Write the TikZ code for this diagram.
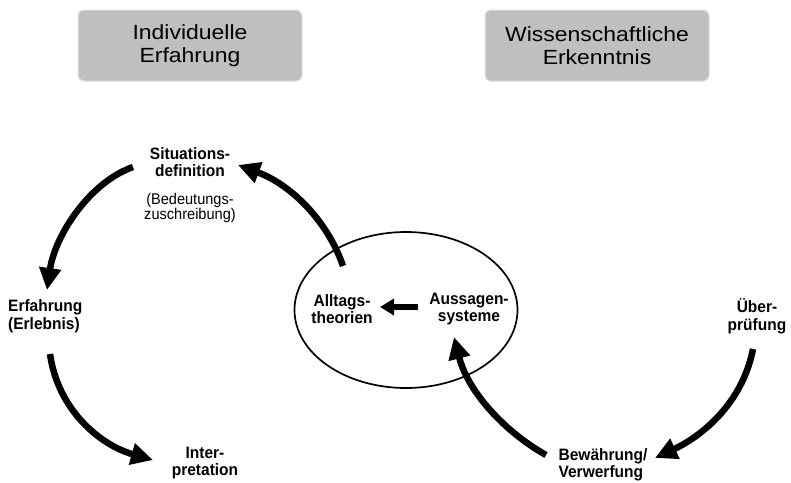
\documentclass[tikz,border=0pt]{standalone}
\usepackage{fontspec}
\setmainfont{Liberation Sans}
\newfontfamily\hdrfont[FakeStretch=1.12]{Liberation Sans}
\newfontfamily\lblfont[FakeStretch=0.94]{Liberation Sans}
\usetikzlibrary{arrows.meta,shapes.geometric}
\begin{document}
\begin{tikzpicture}[x=1pt,y=-1pt,
  headbox/.style={fill=black!25,draw=black!12,line width=1pt,rounded corners=6pt,minimum width=224pt,minimum height=71pt,align=center,font=\hdrfont\fontsize{20.5}{23}\selectfont},
  lbl/.style={font=\lblfont\bfseries\fontsize{16.5}{17.5}\selectfont,align=center,inner sep=0pt},
  sub/.style={font=\lblfont\fontsize{15.5}{14}\selectfont,align=center,inner sep=0pt},
  bigarrow/.style={line width=6.5pt,-{Triangle[width=21pt,length=22pt]}}]
\useasboundingbox (0,0) rectangle (791,482);
\node[headbox] (ind) at (190,45.5) {Individuelle\\Erfahrung};
\node[headbox] (wis) at (597,45.5) {Wissenschaftliche\\Erkenntnis};
\node[draw,line width=1.7pt,ellipse,minimum width=223pt,minimum height=156pt] (ell) at (406,310) {};
\node[lbl] (sit) at (190,162) {Situations-\\definition};
\node[sub] (bed) at (190,208) {(Bedeutungs-\\zuschreibung)};
\node[lbl,align=left,anchor=west] (erf) at (8,316) {Erfahrung\\(Erlebnis)};
\node[lbl] (int) at (205,463) {Inter-\\pretation};
\node[lbl] (all) at (342,309) {Alltags-\\theorien};
\node[lbl] (aus) at (469,309) {Aussagen-\\systeme};
\node[lbl] (ueb) at (757,316) {Über-\\prüfung};
\node[lbl,align=left] (bew) at (603,465) {Bewährung/\\Verwerfung};
\coordinate (a1s) at (343,266);
\coordinate (a1e) at (238,165);
\coordinate (a2s) at (133,167);
\coordinate (a2e) at (47,290);
\coordinate (a3s) at (50,354);
\coordinate (a3e) at (153,460);
\coordinate (a4s) at (753,349);
\coordinate (a4e) at (655,458);
\coordinate (a5s) at (546,455);
\coordinate (a5e) at (454,337);
\coordinate (a6s) at (418,307);
\coordinate (a6e) at (380,307);
\draw[bigarrow] (a1s) .. controls (328,222) and (292,185) .. (a1e);
\draw[bigarrow] (a2s) .. controls (90,182) and (55,235) .. (a2e);
\draw[bigarrow] (a3s) .. controls (58,410) and (100,445) .. (a3e);
\draw[bigarrow] (a4s) .. controls (742,405) and (700,437) .. (a4e);
\draw[bigarrow] (a5s) .. controls (505,432) and (468,392) .. (a5e);
\draw[line width=6pt,-{Triangle[width=16pt,length=14pt]}] (a6s) -- (a6e);
\end{tikzpicture}
\end{document}
